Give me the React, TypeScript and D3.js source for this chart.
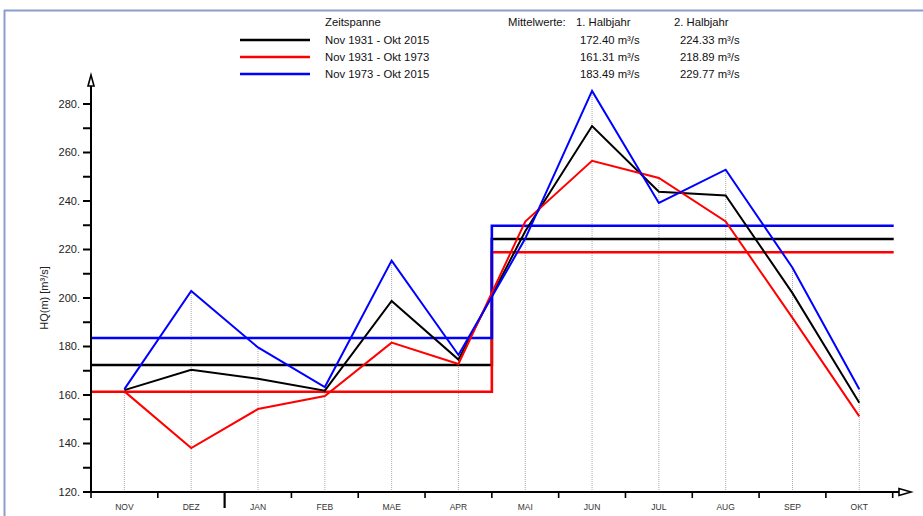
import React from 'react';
import * as d3 from 'd3';

const months = ['NOV', 'DEZ', 'JAN', 'FEB', 'MAE', 'APR', 'MAI', 'JUN', 'JUL', 'AUG', 'SEP', 'OKT'];

const periods = ['Nov 1931 - Okt 2015', 'Nov 1931 - Okt 1973', 'Nov 1973 - Okt 2015'];
const colors = ['#000000', '#ff0000', '#0000ff'];

const hqAll = [162, 170.4, 166.7, 161.8, 198.8, 174.6, 227.5, 270.9, 243.8, 242.3, 202, 156.8];
const hqEarly = [161.5, 138.1, 154.2, 159.6, 181.6, 172.8, 231.5, 256.6, 249.5, 231.6, 191.8, 151.2];
const hqLate = [162.4, 202.9, 179.6, 163.3, 215.4, 176.5, 224.5, 285.4, 239.2, 252.9, 212.5, 162.4];

const meanH1 = [172.40, 161.31, 183.49];
const meanH2 = [224.33, 218.89, 229.77];

const yTicks = [120, 140, 160, 180, 200, 220, 240, 260, 280];
const yMinor = [130, 150, 170, 190, 210, 230, 250, 270];

const W = 923;
const H = 516;
const font = 'Arial, "Liberation Sans", sans-serif';

export default function App() {
  const series = [hqAll, hqEarly, hqLate];
  const x = d3.scaleBand<string>().domain(months).range([91, 892.7]);
  const y = d3.scaleLinear().domain([120, 280]).range([492, 104]);
  const cx = (m: string) => (x(m) ?? 0) + x.bandwidth() / 2;
  const line = d3.line<number>().x((_, i) => cx(months[i])).y(d => y(d));

  const x0 = x.range()[0];
  const x1 = x.range()[1];
  const xMid = x('MAI') ?? 0;
  const bounds = months.map(m => x(m) ?? 0).concat([x1]);

  const meanPath = (i: number) => {
    const p = d3.path();
    p.moveTo(x0, y(meanH1[i]));
    p.lineTo(xMid, y(meanH1[i]));
    p.lineTo(xMid, y(meanH2[i]));
    p.lineTo(x1 + 1, y(meanH2[i]));
    return p.toString();
  };

  return (
    <svg width={W} height={H} style={{ position: 'absolute', left: 0, top: 0, background: '#fff' }} fontFamily={font}>
      {/* frame */}
      <line x1={4} y1={10.5} x2={W} y2={10.5} stroke="#8d9dcb" strokeWidth={2} />
      <line x1={4.5} y1={10} x2={4.5} y2={H} stroke="#8d9dcb" strokeWidth={2} />

      {/* drop lines */}
      {months.map((m, i) => {
        const top = d3.max(series, s => s[i]) ?? 120;
        return (
          <line key={m} x1={cx(m)} x2={cx(m)} y1={y(120)} y2={y(top)}
            stroke="#aaa" strokeWidth={1} strokeDasharray="1,1" />
        );
      })}

      {/* means */}
      {colors.map((c, i) => (
        <path key={'m' + i} d={meanPath(i)} fill="none" stroke={c} strokeWidth={2.6} />
      ))}

      {/* series */}
      {series.map((s, i) => (
        <path key={'s' + i} d={line(s) ?? ''} fill="none" stroke={colors[i]} strokeWidth={2} strokeLinejoin="miter" />
      ))}

      {/* y axis */}
      <line x1={91} x2={91} y1={493} y2={84} stroke="#000" strokeWidth={2} />
      <path d="M91,75 L88,86 L94,86 Z" fill="#fff" stroke="#000" strokeWidth={1.6} />
      {yTicks.map(t => (
        <g key={t}>
          <line x1={83} x2={91} y1={y(t)} y2={y(t)} stroke="#000" strokeWidth={2} />
          <text x={80} y={y(t)} dy="0.35em" textAnchor="end" fontSize={11} fill="#222">{t}.</text>
        </g>
      ))}
      {yMinor.map(t => (
        <line key={t} x1={83} x2={91} y1={y(t)} y2={y(t)} stroke="#000" strokeWidth={2} />
      ))}
      <text transform={`translate(44,${y(200)}) rotate(-90)`} textAnchor="middle" dy="0.35em" fontSize={11} fill="#222">HQ(m) [m³/s]</text>

      {/* x axis */}
      <line x1={90} x2={900} y1={492} y2={492} stroke="#000" strokeWidth={2} />
      <path d="M911,492 L899,488.5 L899,495.5 Z" fill="#fff" stroke="#000" strokeWidth={1.6} />
      {bounds.map((b, i) => (
        <line key={'b' + i} x1={b} x2={b} y1={492} y2={months[i] === 'JAN' ? 508 : 498}
          stroke="#000" strokeWidth={months[i] === 'JAN' ? 2.2 : 1.6} />
      ))}
      {months.map(m => (
        <text key={'l' + m} x={cx(m)} y={510} textAnchor="middle" fontSize={8.5} fill="#333">{m}</text>
      ))}

      {/* legend */}
      <g fontSize={11.3} fill="#111">
        <text x={325} y={26}>Zeitspanne</text>
        <text x={508} y={26}>Mittelwerte:</text>
        <text x={576} y={26}>1. Halbjahr</text>
        <text x={674} y={26}>2. Halbjahr</text>
        {periods.map((p, i) => (
          <g key={p}>
            <line x1={240} x2={310} y1={40 + i * 17} y2={40 + i * 17} stroke={colors[i]} strokeWidth={2.4} />
            <text x={325} y={44 + i * 17}>{p}</text>
            <text x={580} y={44 + i * 17}>{meanH1[i].toFixed(2)} m³/s</text>
            <text x={680} y={44 + i * 17}>{meanH2[i].toFixed(2)} m³/s</text>
          </g>
        ))}
      </g>
    </svg>
  );
}
